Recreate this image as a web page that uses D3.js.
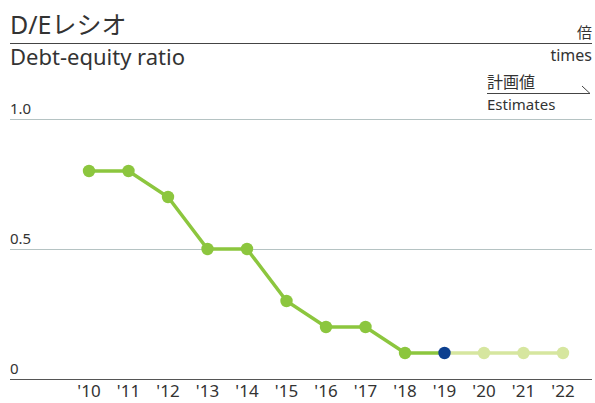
<!DOCTYPE html>
<html>
<head>
<meta charset="utf-8">
<script src="https://cdn.jsdelivr.net/npm/d3@7"></script>
<style>
  body { margin: 0; background: #fff; }
  text { font-family: "Noto Sans", "Noto Sans CJK JP", sans-serif; fill: #333; }
</style>
</head>
<body>
<div id="chart"></div>
<script>
// data
var years = ["'10", "'11", "'12", "'13", "'14", "'15", "'16", "'17", "'18", "'19", "'20", "'21", "'22"];
var ratios = [0.8, 0.8, 0.7, 0.5, 0.5, 0.3, 0.2, 0.2, 0.1, 0.1, 0.1, 0.1, 0.1];
var yTicks = [0, 0.5, 1.0];
var actualLast = 9;   // '19 = 直近実績、以降は計画値

var width = 595, height = 403;
var left = 10, right = 592;

var svg = d3.select("#chart").append("svg")
    .attr("width", width)
    .attr("height", height);

// scales
var x = d3.scalePoint().domain(years).range([89, 563]);
var y = d3.scaleLinear().domain([0, 1]).range([379, 119]);

// title block
svg.append("text").attr("x", left).attr("y", 34)
    .style("font-size", "25px").text("D/Eレシオ");
svg.append("line").attr("x1", left).attr("x2", right).attr("y1", 43.5).attr("y2", 43.5)
    .attr("stroke", "#444").attr("stroke-width", 1);
svg.append("text").attr("x", left).attr("y", 65)
    .style("font-size", "22px").text("Debt-equity ratio");

svg.append("text").attr("x", right).attr("y", 38).attr("text-anchor", "end")
    .style("font-size", "15px").text("倍");
svg.append("text").attr("x", right).attr("y", 61).attr("text-anchor", "end")
    .style("font-size", "16px").text("times");

// estimates legend
svg.append("text").attr("x", 487).attr("y", 88)
    .style("font-size", "16px").text("計画値");
svg.append("path")
    .attr("d", "M487,93.5 H590 L582,86")
    .attr("fill", "none").attr("stroke", "#444").attr("stroke-width", 1);
svg.append("text").attr("x", 487).attr("y", 110)
    .style("font-size", "15px").text("Estimates");

// grid
var grid = svg.append("g");
grid.selectAll("line").data(yTicks).enter().append("line")
    .attr("x1", left).attr("x2", right)
    .attr("y1", function(d) { return Math.round(y(d)) + 0.5; })
    .attr("y2", function(d) { return Math.round(y(d)) + 0.5; })
    .attr("stroke", function(d) { return d === 0 ? "#555" : "#b5c3c3"; })
    .attr("stroke-width", function(d) { return d === 0 ? 1.2 : 1; });
grid.selectAll("text").data(yTicks).enter().append("text")
    .attr("x", left)
    .attr("y", function(d) { return y(d) - 5; })
    .style("font-size", "15px")
    .text(function(d) { return d === 0 ? "0" : d3.format(".1f")(d); });

// x axis labels
svg.append("g").selectAll("text").data(years).enter().append("text")
    .attr("x", function(d) { return x(d); })
    .attr("y", 397)
    .attr("text-anchor", "middle")
    .style("font-size", "17px")
    .text(function(d) { return d; });

// lines
var pts = years.map(function(d, i) { return {year: d, v: ratios[i], i: i}; });
var line = d3.line()
    .x(function(d) { return x(d.year); })
    .y(function(d) { return y(d.v); });

svg.append("path")
    .datum(pts.slice(actualLast))
    .attr("d", line)
    .attr("fill", "none").attr("stroke", "#d6e69f").attr("stroke-width", 3.5);
svg.append("path")
    .datum(pts.slice(0, actualLast + 1))
    .attr("d", line)
    .attr("fill", "none").attr("stroke", "#8cc63e").attr("stroke-width", 3.5);

// points
svg.append("g").selectAll("circle").data(pts).enter().append("circle")
    .attr("cx", function(d) { return x(d.year); })
    .attr("cy", function(d) { return y(d.v); })
    .attr("r", 6.2)
    .attr("fill", function(d) {
        if (d.i === actualLast) return "#0c3f8f";
        return d.i > actualLast ? "#d6e69f" : "#8cc63e";
    });
</script>
</body>
</html>
